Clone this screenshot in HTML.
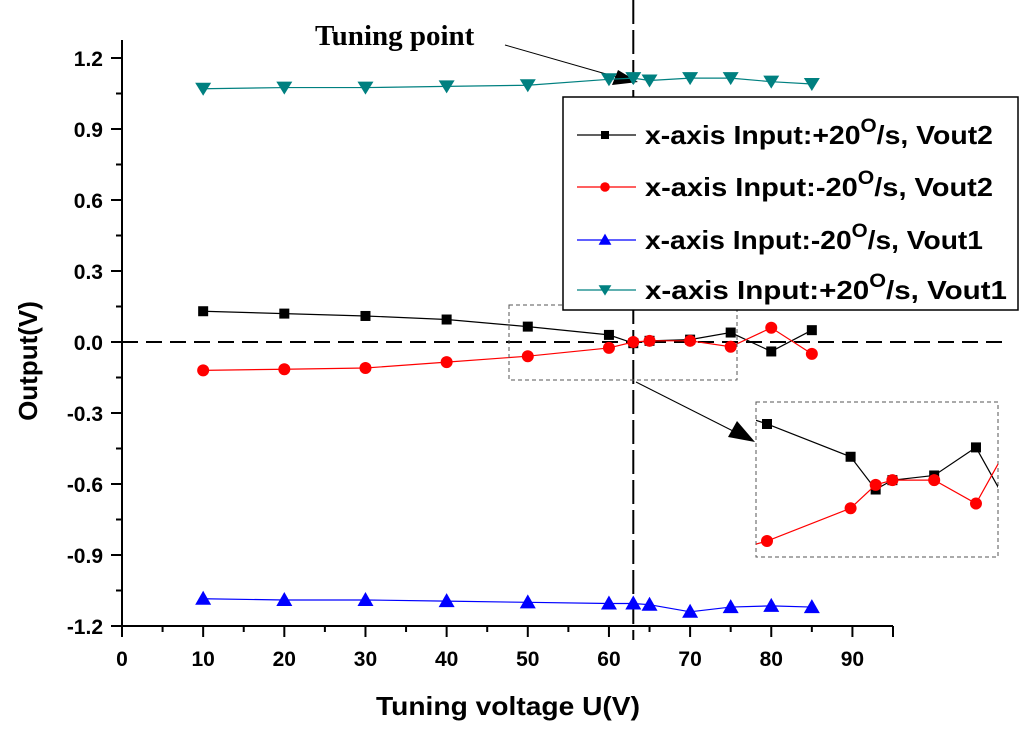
<!DOCTYPE html>
<html><head><meta charset="utf-8"><style>
body{margin:0;background:#fff}
svg{display:block;font-family:"Liberation Sans",Arial,sans-serif}
</style></head><body>
<svg id="chart" width="1024" height="736" viewBox="0 0 1024 736"></svg>
<script>
const xs=[10,20,30,40,50,60,63,65,70,75,80,85];
const blackVals=[0.13,0.12,0.11,0.095,0.065,0.03,-0.005,0.005,0.01,0.04,-0.04,0.05];
const redVals=[-0.12,-0.115,-0.11,-0.085,-0.06,-0.025,0.0,0.005,0.005,-0.02,0.06,-0.05];
const blueVals=[-1.085,-1.09,-1.09,-1.095,-1.10,-1.105,-1.105,-1.11,-1.14,-1.12,-1.115,-1.12];
const tealVals=[1.07,1.075,1.075,1.08,1.085,1.11,1.115,1.105,1.115,1.115,1.10,1.09];
const xTicks=[0,10,20,30,40,50,60,70,80,90];
const yTicks=[-1.2,-0.9,-0.6,-0.3,0.0,0.3,0.6,0.9,1.2];
const svg=document.getElementById('chart');
const NS='http://www.w3.org/2000/svg';
const X=v=>122+(v)*(893-122)/95;
const Y=v=>342-v*(284/1.2);
function el(t,a,p){const e=document.createElementNS(NS,t);for(const k in a)e.setAttribute(k,a[k]);(p||svg).appendChild(e);return e;}
let ax=el('g',{});


el('line',{x1:122,y1:626,x2:893,y2:626,stroke:'#000','stroke-width':2},ax);
el('line',{x1:122,y1:40,x2:122,y2:626,stroke:'#000','stroke-width':2},ax);
for(let v=0;v<=95;v+=5){el('line',{x1:X(v),x2:X(v),y1:626,y2:v%10==0?637:632,stroke:'#000','stroke-width':2},ax);}
el('line',{x1:893,x2:893,y1:626,y2:637,stroke:'#000','stroke-width':2},ax);
xTicks.forEach(v=>{const t=el('text',{x:X(v),y:666,'text-anchor':'middle','font-size':21,'font-weight':'bold'},ax);t.textContent=v;
});
for(let v=-1.2;v<=1.21;v+=0.15){const maj=Math.abs(Math.round(v/0.3)*0.3-v)<1e-6;el('line',{x1:maj?111:116,x2:122,y1:Y(v),y2:Y(v),stroke:'#000','stroke-width':2},ax);}
yTicks.forEach(v=>{const t=el('text',{x:103,y:Y(v)+8,'text-anchor':'end','font-size':21,'font-weight':'bold'},ax);t.textContent=v.toFixed(1);
});
let xt=el('text',{x:376,y:715,'font-size':26,'font-weight':'bold',textLength:264,lengthAdjust:'spacingAndGlyphs'});xt.textContent='Tuning voltage U(V)';

let yt=el('text',{x:37,y:361,'text-anchor':'middle','font-size':26,'font-weight':'bold',transform:'rotate(-90 37 361)'});yt.textContent='Output(V)';

let h=el('line',{x1:122,y1:342,x2:1005,y2:342,stroke:'#000','stroke-width':2,'stroke-dasharray':'16,8'});

let vl=el('line',{x1:X(63),y1:0,x2:X(63),y2:640,stroke:'#000','stroke-width':2,'stroke-dasharray':'24,6'});

let tp=el('text',{x:315,y:45,'font-size':29,'font-weight':'bold','font-family':'Liberation Serif,serif'});tp.textContent='Tuning point';

el('line',{x1:505,y1:45,x2:620,y2:78,stroke:'#000','stroke-width':1});
el('polygon',{points:'638,82 612,85 618,70',fill:'#000'});
function marker(g,type,x,y,c,s){s=s||1;
 if(type=='sq')return el('rect',{x:x-5*s,y:y-5*s,width:10*s,height:10*s,fill:c},g);
 if(type=='ci')return el('ellipse',{cx:x,cy:y,rx:6*s,ry:6*s,fill:c},g);
 if(type=='up')return el('polygon',{points:`${x},${y-8*s} ${x-8*s},${y+6*s} ${x+8*s},${y+6*s}`,fill:c},g);
 return el('polygon',{points:`${x},${y+7*s} ${x-8*s},${y-6*s} ${x+8*s},${y-6*s}`,fill:c},g);}
const series=[[blackVals,'#000','sq','series-vout2-plus20'],[redVals,'#f00','ci','series-vout2-minus20'],[blueVals,'#00f','up','series-vout1-minus20'],[tealVals,'#008080','dn','series-vout1-plus20']];
series.forEach(([vals,c,m,n])=>{const g=el('g',{});
 el('polyline',{points:xs.map((x,i)=>X(x)+','+Y(vals[i])).join(' '),fill:'none',stroke:c,'stroke-width':1.2},g);
 xs.forEach((x,i)=>{const p=marker(g,m,X(x),Y(vals[i]),c);});});
el('rect',{x:509,y:305,width:228,height:75,fill:'none',stroke:'#555','stroke-dasharray':'4,3'});
el('line',{x1:636,y1:382,x2:735,y2:432,stroke:'#000'});
el('polygon',{points:'755,442 728,437 737,421',fill:'#000'});
let ins=el('g',{});
el('rect',{x:756,y:402,width:242,height:155,fill:'#fff',stroke:'#555','stroke-dasharray':'4,3'},ins);
const cp=el('clipPath',{id:'ic'});el('rect',{x:756,y:402,width:242,height:155},cp);
const ig=el('g',{'clip-path':'url(#ic)'},ins);
const IX=v=>767+(X(v)-X(50))*1.03, IY=v=>424+(0.065-v)*936;
[[blackVals,'#000','sq'],[redVals,'#f00','ci']].forEach(([vals,c,m])=>{
 el('polyline',{points:xs.map((x,i)=>IX(x)+','+IY(vals[i])).join(' '),fill:'none',stroke:c,'stroke-width':1.2},ig);
 xs.forEach((x,i)=>marker(ig,m,IX(x),IY(vals[i]),c,1));});
let lg=el('g',{});
el('rect',{x:563,y:97,width:455,height:213,fill:'#fff',stroke:'#000','stroke-width':1.5},lg);
const labs=[['x-axis Input:+20','/s, Vout2'],['x-axis Input:-20','/s,  Vout2'],['x-axis Input:-20','/s, Vout1'],['x-axis Input:+20','/s,  Vout1']];
const ly=[135,187,240,290];
const lw=[348,348,338,362];
series.forEach(([v,c,m],i)=>{const y=ly[i];el('line',{x1:577,x2:636,y1:y,y2:y,stroke:c,'stroke-width':1.2},lg);marker(lg,m,605,y,c,0.8);
 const t=el('text',{x:645,y:y+9,'font-size':26,'font-weight':'bold','xml:space':'preserve',textLength:lw[i],lengthAdjust:'spacingAndGlyphs'},lg);
 
 t.innerHTML=labs[i][0]+'<tspan dy="-12" font-size="19">O</tspan><tspan dy="12">'+labs[i][1]+'</tspan>';});
</script>
</body></html>
